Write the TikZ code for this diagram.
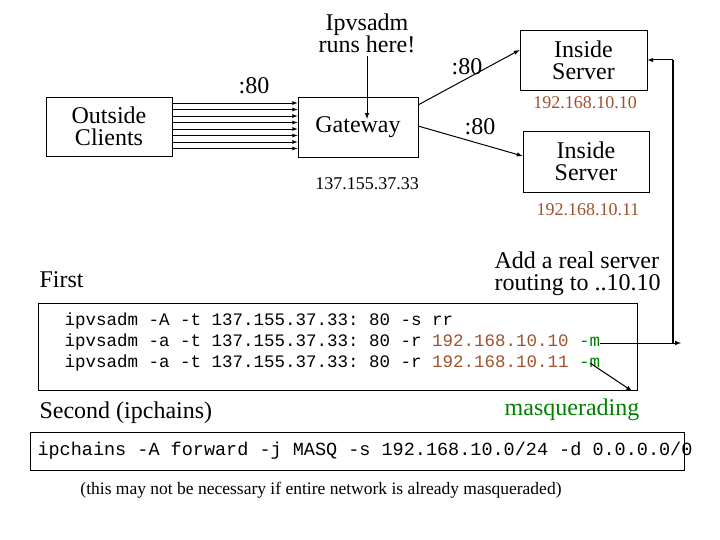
\documentclass[tikz,border=0pt]{standalone}
\usepackage{fontspec}
\setmainfont{Liberation Serif}
\setmonofont{Liberation Mono}
\begin{document}
\begin{tikzpicture}[x=1pt,y=-1pt,
  box/.style={draw,line width=0.8pt,inner sep=0pt},
  lbl/.style={font=\fontsize{24}{27}\selectfont,align=center},
  ip/.style={font=\fontsize{18}{20}\selectfont,text=brn},
  arr/.style={-latex,line width=1pt},
  code/.style={font=\ttfamily\fontsize{17.5}{21}\selectfont,align=left,anchor=west}]
\definecolor{brn}{RGB}{160,82,45}
\definecolor{grn}{RGB}{0,128,0}
\useasboundingbox (0,0) rectangle (720,540);
\node[box,minimum width=126pt,minimum height=59pt,lbl] (out) at (109,126.5) {Outside\\[-5pt]Clients};
\node[box,minimum width=120pt,minimum height=60pt,lbl] (gw) at (358,127) {Gateway};
\node[box,minimum width=127pt,minimum height=60pt,lbl] (s1) at (583.5,60) {Inside\\[-5pt]Server};
\node[box,minimum width=126pt,minimum height=61pt,lbl] (s2) at (586,161.5) {Inside\\[-5pt]Server};
\node[lbl] (ipv) at (367,33) {Ipvsadm\\[-5pt]runs here!};
\coordinate (gwin) at (367,119);
\draw[arr] (ipv.south) -- (gwin);
\node[lbl] (p80a) at (254,86) {:80};
\node[lbl] (p80b) at (467,67) {:80};
\node[lbl] (p80c) at (480,127) {:80};
\node[ip,text=black] (gip) at (367,184) {137.155.37.33};
\node[ip] (ip1) at (585,103) {192.168.10.10};
\node[ip] (ip2) at (588,210) {192.168.10.11};
\foreach \y in {103,109.5,116,122.5,129,135.5,142,148.5}
  \draw[-latex,line width=0.8pt] (out.east |- 0,\y) -- (gw.west |- 0,\y);
\coordinate (g1) at (418,105);
\coordinate (g2) at (418,126);
\draw[arr] (g1) -- (s1.west |- 0,50);
\draw[arr] (g2) -- (s2.west |- 0,156);
\node[lbl,anchor=west] (first) at (36,280) {First};
\node[lbl,align=left,anchor=west] (add) at (491,274) {Add a real server\\[-5pt]routing to ..10.10};
\node[box,minimum width=599pt,minimum height=87pt] (c1) at (337.5,346.5) {};
\node[code] (cmd) at (61,342) {ipvsadm -A -t 137.155.37.33: 80 -s rr\\
ipvsadm -a -t 137.155.37.33: 80 -r \textcolor{brn}{192.168.10.10} \textcolor{grn}{-m}\\
ipvsadm -a -t 137.155.37.33: 80 -r \textcolor{brn}{192.168.10.11} \textcolor{grn}{-m}};
\coordinate (m1) at (600,343);
\coordinate (rt) at (681,343);
\coordinate (vt) at (673,60);
\draw[arr] (m1) -- (rt);
\draw[line width=1.4pt] (673,343) -- (vt);
\draw[arr] (vt) -- (s1.east);
\node[lbl,anchor=west] (sec) at (36,413) {Second (ipchains)};
\node[lbl,text=grn] (masq) at (572,410) {masquerading};
\coordinate (m2) at (590,363);
\coordinate (m3) at (632,391);
\draw[arr] (m2) -- (m3);
\node[box,minimum width=654pt,minimum height=38pt] (c2) at (357,451) {};
\node[code,font=\ttfamily\fontsize{18.5}{21}\selectfont] (ipc) at (34,451) {ipchains -A forward -j MASQ -s 192.168.10.0/24 -d 0.0.0.0/0};
\node[font=\fontsize{17.5}{20}\selectfont] (note) at (321,490) {(this may not be necessary if entire network is already masqueraded)};
\end{tikzpicture}
\end{document}
